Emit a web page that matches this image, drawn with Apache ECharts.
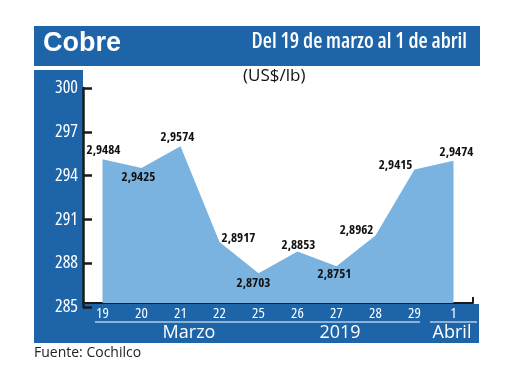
<!DOCTYPE html>
<html>
<head>
<meta charset="utf-8">
<script src="https://cdn.jsdelivr.net/npm/echarts@6/dist/echarts.min.js"></script>
<style>html,body{margin:0;padding:0;background:#fff}#c{width:520px;height:390px}</style>
</head>
<body>
<div id="c"></div>
<script>
// Data (US cents per lb; labels shown as US$/lb)
const categories = ['19', '20', '21', '22', '25', '26', '27', '28', '29', '1'];
const values = [294.84, 294.25, 295.74, 289.17, 287.03, 288.53, 287.51, 289.62, 294.15, 294.74];
const yTickLabels = [285, 288, 291, 294, 297, 300];
const monthGroups = ['Marzo', '2019', 'Abril'];

// Label placement (style only)
const labelPos = ['top', 'bottom', 'top', 'right', 'bottom', 'top', 'bottom', 'left', 'left', 'top'];
const labelDist = [2, 3, 2, 2, 3, 0, 1, 2, 2, 2];
const labelOff = [[1, 0], [-3, 0], [-3, 0], [0, -4], [-5, 0], [1, 0], [-2, 0], [0, -5], [0, -4], [3, 0]];

const BLUE = '#1e64a9';
const AREA = '#7bb3e0';
const OS = "'Open Sans', 'Noto Sans', sans-serif";

const yMin = yTickLabels[0], yMax = yTickLabels[yTickLabels.length - 1];
const yStep = yTickLabels[1] - yTickLabels[0];

const fmt = v => (v / 100).toFixed(4).replace('.', ',');

const chart = echarts.init(document.getElementById('c'), null, {renderer: 'canvas'});
chart.setOption({
  backgroundColor: '#fff',
  animation: false,
  grid: [
    {left: 83, top: 84, width: 390, height: 219},
    {left: 83, top: 88, width: 390, height: 219}
  ],
  xAxis: [
    {
      gridIndex: 0, type: 'category', data: categories, boundaryGap: true,
      axisLine: {show: true, lineStyle: {color: '#1a1a1a', width: 2}},
      axisTick: {show: false},
      axisLabel: {color: '#fff', fontSize: 15, fontWeight: 'normal semi-condensed', fontFamily: OS, margin: 3, interval: 0},
      splitLine: {show: false}
    },
    {gridIndex: 1, type: 'value', show: false, min: 0, max: 1}
  ],
  yAxis: [
    {gridIndex: 0, type: 'value', min: yMin, max: yMax, interval: yStep, show: false, splitLine: {show: false}},
    {
      gridIndex: 1, type: 'value', min: yMin, max: yMax, interval: yStep,
      axisLine: {show: true, lineStyle: {color: '#1a1a1a', width: 2.5}},
      axisTick: {show: true, inside: true, length: 9, lineStyle: {color: '#1a1a1a', width: 2.5}},
      axisLabel: {color: '#fff', fontSize: 18, fontWeight: 'normal semi-condensed', fontFamily: OS, margin: 5},
      splitLine: {show: false}
    }
  ],
  series: [{
    type: 'line',
    xAxisIndex: 0, yAxisIndex: 0,
    data: values.map((v, i) => ({
      value: v,
      label: {position: labelPos[i], distance: labelDist[i], offset: labelOff[i]}
    })),
    symbol: 'circle',
    symbolSize: 0.1,
    showSymbol: true,
    itemStyle: {color: AREA},
    lineStyle: {width: 0},
    areaStyle: {color: AREA, opacity: 1},
    z: 3,
    label: {
      show: true,
      formatter: p => fmt(p.value),
      color: '#111',
      fontSize: 13,
      fontWeight: 'bold condensed',
      fontFamily: OS
    }
  }],
  graphic: [
    // header band
    {type: 'rect', z: -10, shape: {x: 34, y: 26, width: 446, height: 40}, style: {fill: BLUE}},
    // left column
    {type: 'rect', z: -10, shape: {x: 34, y: 70, width: 49, height: 240}, style: {fill: BLUE}},
    // bottom band
    {type: 'rect', z: -10, shape: {x: 34, y: 304, width: 445, height: 39}, style: {fill: BLUE}},
    {type: 'text', z: 100, left: 43, top: 30, style: {text: 'Cobre', fill: '#fff', font: "bold 27px 'Liberation Sans', sans-serif"}},
    {type: 'text', z: 100, right: 53, top: 32, style: {text: 'Del 19 de marzo al 1 de abril', fill: '#fff', font: "600 condensed 21px " + OS}},
    {type: 'text', z: 100, left: 243, top: 68, style: {text: '(US$/lb)', fill: '#111', font: "17px " + OS}},
    // month separators
    {type: 'line', z: 100, shape: {x1: 95, y1: 322, x2: 420, y2: 322}, style: {stroke: '#fff', lineWidth: 1.2}},
    {type: 'line', z: 100, shape: {x1: 430, y1: 322, x2: 477, y2: 322}, style: {stroke: '#fff', lineWidth: 1.2}},
    {type: 'text', z: 100, x: 189, y: 333, style: {text: monthGroups[0], fill: '#fff', font: "18px " + OS, textAlign: 'center', textVerticalAlign: 'middle'}},
    {type: 'text', z: 100, x: 340, y: 333, style: {text: monthGroups[1], fill: '#fff', font: "18px " + OS, textAlign: 'center', textVerticalAlign: 'middle'}},
    {type: 'text', z: 100, x: 452, y: 333, style: {text: monthGroups[2], fill: '#fff', font: "18px " + OS, textAlign: 'center', textVerticalAlign: 'middle'}},
    // right end tick of x axis
    {type: 'line', z: 100, shape: {x1: 473, y1: 303, x2: 473, y2: 297}, style: {stroke: '#1a1a1a', lineWidth: 2}},
    {type: 'text', z: 100, left: 34, top: 346, style: {text: 'Fuente: Cochilco', fill: '#222', font: "14px " + OS}}
  ]
});
</script>
</body>
</html>
